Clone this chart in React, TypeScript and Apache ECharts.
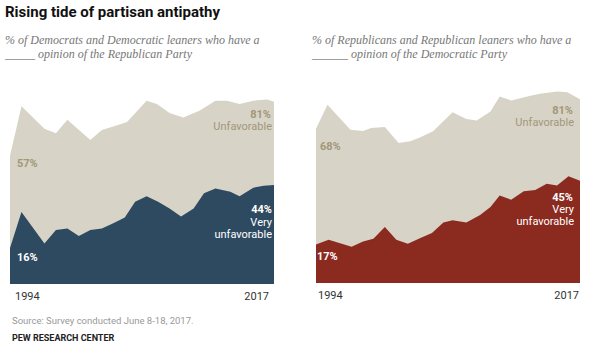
import React, { useEffect, useRef } from "react";
import * as echarts from "echarts";

const demUnfavYears = [1994, 1995, 1997, 1998, 1999, 2001, 2002, 2003, 2004.2, 2005.9, 2006.8, 2007.9, 2009.1, 2010.5, 2011.9, 2012.9, 2014, 2015.2, 2016.4, 2017];
const demUnfav = [57, 79, 69, 67, 73, 64, 68.5, 70, 72, 81.5, 80, 76, 74, 77, 81.5, 81.5, 80, 81.5, 82, 81];

const demVeryYears = [1994, 1995, 1997, 1998, 1999, 2000, 2001, 2002, 2003, 2004, 2004.9, 2005.9, 2006.9, 2007.9, 2008.9, 2010, 2010.9, 2011.9, 2013.2, 2014, 2015.2, 2016.1, 2017];
const demVery = [16, 32, 18, 24, 24.7, 21.3, 24, 24.7, 27, 29.6, 36.6, 39, 36.6, 33.6, 30, 33.6, 40.3, 42.5, 41, 39, 42.8, 43.7, 44];

const repUnfavYears = [1994, 1995, 1997, 1998.1, 1998.8, 2000, 2001.2, 2002.2, 2003, 2004.2, 2005.9, 2007.1, 2008, 2009.2, 2010, 2011, 2012.4, 2013.5, 2015, 2015.9, 2017];
const repUnfav = [68, 78.5, 67.5, 67, 68.3, 68.7, 61.7, 62.4, 64, 66.8, 75.2, 72.2, 71.6, 75.6, 82.2, 80.4, 82.2, 83.4, 84.4, 84, 81];

const repVeryYears = [1994, 1995.1, 1997.1, 1998.1, 1999, 2000, 2001, 2002, 2003.1, 2004.1, 2005.1, 2005.9, 2007.1, 2008.3, 2009.2, 2010, 2011, 2012.1, 2013.1, 2014.1, 2015, 2016, 2017];
const repVery = [17, 19, 16, 18.3, 19.5, 24.7, 19, 17.3, 19.8, 22, 26.7, 27.6, 26.7, 30, 33.5, 38.5, 36.7, 40.4, 41, 43.7, 43, 47, 45];

const tickYears = [1994, 2017];

const TITLE = "Rising tide of partisan antipathy";
const SUB_LEFT = ["% of Democrats and Democratic leaners who have a", "_____ opinion of the Republican Party"];
const SUB_RIGHT = ["% of Republicans and Republican leaners who have a", "______ opinion of the Democratic Party"];
const SOURCE = "Source: Survey conducted June 8-18, 2017.";
const CREDIT = "PEW RESEARCH CENTER";

const GRAY = "#d7d3c6";
const BLUE = "#2e4a61";
const RED = "#8b2a1f";
const OLIVE = "#a2977a";
const SANS = "Roboto, 'Liberation Sans', sans-serif";
const SERIF = "'Liberation Serif', 'DejaVu Serif', serif";

const pairs = (xs: number[], ys: number[]) => xs.map((x, i) => [x, ys[i]]);

export default function App() {
  const ref = useRef<HTMLDivElement>(null);
  useEffect(() => {
    if (!ref.current) return;
    const chart = echarts.init(ref.current, undefined, { renderer: "svg" });
    const xAxisBase = (pad: number[]) => ({
      type: "value",
      min: 1994,
      max: 2017,
      axisLine: { show: false },
      axisTick: { show: false },
      splitLine: { show: false },
      axisLabel: {
        customValues: tickYears,
        formatter: (v: number) => (tickYears.includes(v) ? String(v) : ""),
        color: "#333",
        fontSize: 11,
        fontFamily: SANS,
        margin: 7,
        alignMinLabel: "left",
        alignMaxLabel: "right",
        padding: pad,
      },
    });
    const yAxisBase = { type: "value", min: 0, max: 100, show: false };
    const area = (data: number[][], color: string, idx: number, z: number) => ({
      type: "line",
      data,
      xAxisIndex: idx,
      yAxisIndex: idx,
      showSymbol: false,
      symbol: "none",
      smooth: false,
      lineStyle: { width: 0, color },
      itemStyle: { color },
      areaStyle: { color, opacity: 1 },
      z,
      silent: true,
    });
    const txt = (text: string, x: number, y: number, opts: any = {}) => ({
      type: "text",
      x,
      y,
      style: {
        text,
        fontFamily: SANS,
        fontSize: 11,
        fill: "#333",
        verticalAlign: "middle",
        align: "left",
        ...opts,
      },
      z: 100,
    });
    const sub = { fontFamily: SERIF, fontStyle: "italic", fontSize: 12, fill: "#777" };
    chart.setOption({
      animation: false,
      grid: [
        { left: 10, top: 59, width: 264, height: 225 },
        { left: 316, top: 56, width: 264, height: 227 },
      ],
      xAxis: [
        { ...xAxisBase([0, 5, 0, 5]), gridIndex: 0 },
        { ...xAxisBase([0, 1, 0, 2]), gridIndex: 1 },
      ],
      yAxis: [
        { ...yAxisBase, gridIndex: 0 },
        { ...yAxisBase, gridIndex: 1 },
      ],
      series: [
        area(pairs(demUnfavYears, demUnfav), GRAY, 0, 1),
        area(pairs(demVeryYears, demVery), BLUE, 0, 2),
        area(pairs(repUnfavYears, repUnfav), GRAY, 1, 1),
        area(pairs(repVeryYears, repVery), RED, 1, 2),
      ],
      graphic: [
        txt(TITLE, 5, 12, { fontSize: 15, fontWeight: "bold", fill: "#111" }),
        txt(SUB_LEFT[0], 5, 40, sub),
        txt(SUB_LEFT[1], 5, 54, sub),
        txt(SUB_RIGHT[0], 312, 40, sub),
        txt(SUB_RIGHT[1], 312, 54, sub),
        // left panel labels
        txt("57%", 17, 163, { fontWeight: "bold", fill: OLIVE }),
        txt("16%", 17, 257, { fontWeight: "bold", fill: "#fff" }),
        txt("81%", 271, 114, { fontWeight: "bold", fill: OLIVE, align: "right" }),
        txt("Unfavorable", 272, 126, { fill: OLIVE, align: "right" }),
        txt("44%", 272, 209, { fontWeight: "bold", fill: "#fff", align: "right" }),
        txt("Very", 272, 222, { fill: "#fff", align: "right" }),
        txt("unfavorable", 272, 234, { fill: "#fff", align: "right" }),
        // right panel labels
        txt("68%", 320, 146, { fontWeight: "bold", fill: OLIVE }),
        txt("17%", 317, 256, { fontWeight: "bold", fill: "#fff" }),
        txt("81%", 573, 110, { fontWeight: "bold", fill: OLIVE, align: "right" }),
        txt("Unfavorable", 574, 122, { fill: OLIVE, align: "right" }),
        txt("45%", 573, 197, { fontWeight: "bold", fill: "#fff", align: "right" }),
        txt("Very", 574, 209, { fill: "#fff", align: "right" }),
        txt("unfavorable", 574, 221, { fill: "#fff", align: "right" }),
        // footer
        txt(SOURCE, 12, 320, { fontSize: 9.5, fill: "#999" }),
        txt(CREDIT, 12, 338, { fontSize: 9, fontWeight: "bold", fill: "#222" }),
      ],
    });
    return () => chart.dispose();
  }, []);
  return <div ref={ref} style={{ width: 600, height: 356, position: "absolute", left: 0, top: 0 }} />;
}
